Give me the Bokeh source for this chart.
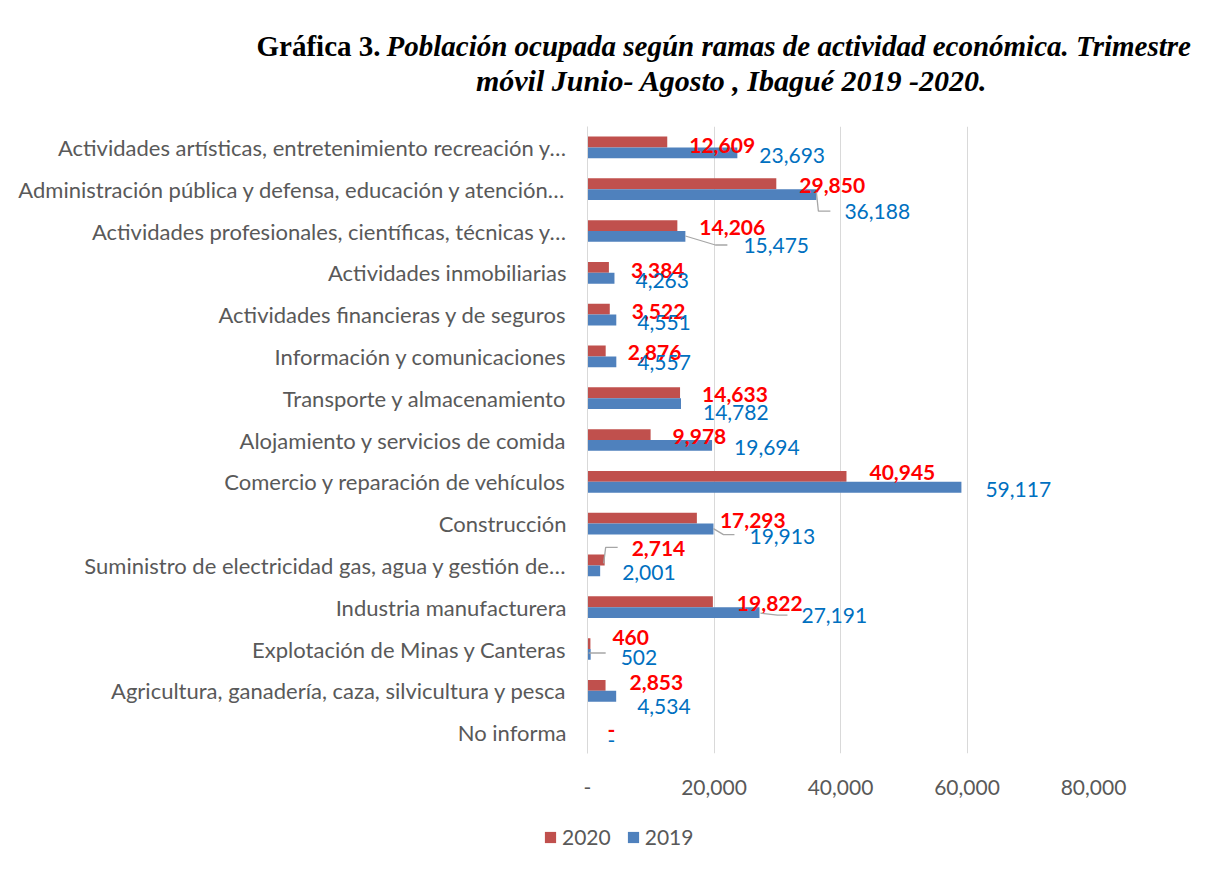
from bokeh.plotting import figure
from bokeh.layouts import column
from bokeh.models import (Range1d, FixedTicker, ColumnDataSource,
                          Label, Legend, LegendItem)
from bokeh.transform import dodge
from bokeh.core.properties import value
from bokeh.embed import file_html
from bokeh.resources import INLINE

# ---------------- data (top to bottom as in the chart) ----------------
categories = [
    "Actividades artísticas, entretenimiento recreación y…",
    "Administración pública y defensa, educación y atención…",
    "Actividades profesionales, científicas, técnicas y…",
    "Actividades inmobiliarias",
    "Actividades financieras y de seguros",
    "Información y comunicaciones",
    "Transporte y almacenamiento",
    "Alojamiento y servicios de comida",
    "Comercio y reparación de vehículos",
    "Construcción",
    "Suministro de electricidad gas, agua y gestión de…",
    "Industria manufacturera",
    "Explotación de Minas y Canteras",
    "Agricultura, ganadería, caza, silvicultura y pesca",
    "No informa",
]
values_2020 = [12609, 29850, 14206, 3384, 3522, 2876, 14633, 9978, 40945, 17293, 2714, 19822, 460, 2853, 0]
values_2019 = [23693, 36188, 15475, 4263, 4551, 4557, 14782, 19694, 59117, 19913, 2001, 27191, 502, 4534, 0]
series_names = ["2020", "2019"]
x_ticks = [0, 20000, 40000, 60000, 80000]
x_tick_labels = ["-", "20,000", "40,000", "60,000", "80,000"]
title_bold = "Gráfica 3."
title_line1 = "Población ocupada según ramas de actividad económica. Trimestre"
title_line2 = "móvil  Junio- Agosto , Ibagué 2019 -2020."

# ---------------- label placement (style, pixels) ----------------
red_dx = [22, 23, 22, 22, 22, 22, 22, 22, 23, 23, 27, 24, 22, 24, 20]
red_dy = [-2, -4, -4, -2, -3, -4, -4, -4, -9, -3, -17, -4, -12, -8, -3]
blue_dx = [22, 28, 58, 21, 21, 21, 22, 22, 24, 36, 22, 42, 30, 21, 20]
blue_dy = [8, 22, 14, 8, 8, 6, 14, 7, 8, 13, 7, 8, 8, 16, 8]

# leader lines: (row, series, [dx px], [dy px]) relative to bar end / row centre
leaders = [
    (1, "2019", [0, 2, 14], [3, 22, 22]),
    (2, "2019", [0, 30, 42], [5, 14, 14]),
    (9, "2019", [0, 10, 21], [5, 11, 11]),
    (10, "2020", [-1, 1, 13], [-2, -18, -18]),
    (11, "2019", [1, 18, 28], [6, 8, 8]),
    (12, "2019", [-2, 15, 15], [4, 4, 4]),
]

RED = "#C0504D"
BLUE = "#4F81BD"
GREY_TXT = "#595959"
FONT = "Lato"

W = 1209
TH = 100                  # title strip
H = 710                   # main chart
LH = 43                   # legend strip
BL, BR, BT, BB = 587, 116, 26, 57
frame_w = W - BL - BR
frame_h = H - BT - BB

def fmt(v):
    return "-" if v == 0 else f"{v:,}"

n = len(categories)
ypos = [n - 1 - i for i in range(n)]   # category slots, top row highest
src = ColumnDataSource(dict(
    y=ypos,
    v2020=values_2020,
    v2019=values_2019,
    t2020=[fmt(v) for v in values_2020],
    t2019=[fmt(v) for v in values_2019],
    rdx=red_dx, rdy=red_dy, bdx=blue_dx, bdy=blue_dy,
))

# ---------------- title strip ----------------
pt = figure(width=W, height=TH, output_backend="svg", toolbar_location=None,
            x_axis_location=None, y_axis_location=None, min_border=0,
            x_range=Range1d(0, 1), y_range=Range1d(0, 1))
pt.frame_align = False
pt.outline_line_color = None
pt.grid.visible = False
title_font = "Liberation Serif"
pt.add_layout(Label(x=380, y=TH - 45, x_units="screen", y_units="screen",
                    text=title_bold, text_align="right", text_baseline="middle",
                    text_font=title_font, text_font_style="bold",
                    text_font_size="29px", text_color="#000000"))
pt.add_layout(Label(x=386, y=TH - 45, x_units="screen", y_units="screen",
                    text=title_line1, text_align="left", text_baseline="middle",
                    text_font=title_font, text_font_style="bold italic",
                    text_font_size="29px", text_color="#000000"))
pt.add_layout(Label(x=735, y=TH - 80, x_units="screen", y_units="screen",
                    text=title_line2, text_align="center", text_baseline="middle",
                    text_font=title_font, text_font_style="bold italic",
                    text_font_size="30px", text_color="#000000"))

# ---------------- main chart ----------------
p = figure(width=W, height=H, y_range=Range1d(-0.5, n - 0.5),
           x_range=Range1d(0, 80000), output_backend="svg",
           toolbar_location=None, min_border_left=BL, min_border_right=BR,
           min_border_top=BT, min_border_bottom=BB)
p.frame_align = False

r20 = p.hbar(y=dodge("y", 0.13), left=0, right="v2020",
             height=0.26, fill_color=RED, line_color=None, source=src)
r19 = p.hbar(y=dodge("y", -0.13), left=0, right="v2019",
             height=0.26, fill_color=BLUE, line_color=None, source=src)

p.text(x="v2020", y="y", text="t2020", x_offset="rdx", y_offset="rdy",
       text_align="left", text_baseline="middle", text_color="#FF0000",
       text_font=value(FONT), text_font_style="bold", text_font_size="21px",
       source=src)
p.text(x="v2019", y="y", text="t2019", x_offset="bdx", y_offset="bdy",
       text_align="left", text_baseline="middle", text_color="#0070C0",
       text_font=value(FONT), text_font_size="21px", source=src)

# leader lines
px_x = 80000 / frame_w
px_y = n / frame_h
xs, ys = [], []
for row, s, dxs, dys in leaders:
    base = values_2019[row] if s == "2019" else values_2020[row]
    xs.append([base + d * px_x for d in dxs])
    ys.append([ypos[row] - d * px_y for d in dys])
p.multi_line(xs=xs, ys=ys, line_color="#A6A6A6", line_width=1.3)

# axes & grid
p.xaxis.ticker = FixedTicker(ticks=x_ticks)
p.xaxis.major_label_overrides = {t: l for t, l in zip(x_ticks, x_tick_labels)}
p.xaxis.axis_line_color = None
p.xaxis.major_tick_line_color = None
p.xaxis.minor_tick_line_color = None
p.xaxis.major_label_standoff = 20
p.xaxis.major_label_text_font = FONT
p.xaxis.major_label_text_font_size = "21px"
p.xaxis.major_label_text_color = GREY_TXT

p.yaxis.ticker = FixedTicker(ticks=ypos)
p.yaxis.major_label_overrides = {y: c for y, c in zip(ypos, categories)}
p.yaxis.axis_line_color = "#D9D9D9"
p.yaxis.major_tick_line_color = None
p.yaxis.minor_tick_line_color = None
p.yaxis.major_label_standoff = 15
p.yaxis.major_label_text_font = FONT
p.yaxis.major_label_text_font_size = "22px"
p.yaxis.major_label_text_color = GREY_TXT

p.xgrid.ticker = FixedTicker(ticks=x_ticks)
p.xgrid.grid_line_color = "#D9D9D9"
p.ygrid.grid_line_color = None
p.outline_line_color = None

# ---------------- legend strip ----------------
pl = figure(width=W, height=LH, output_backend="svg", toolbar_location=None,
            x_axis_location=None, y_axis_location=None, min_border=0,
            x_range=Range1d(0, 1), y_range=Range1d(0, 1))
pl.frame_align = False
pl.outline_line_color = None
pl.grid.visible = False
# swatch renderers (their single bar lies far outside the strip's ranges)
k20 = pl.hbar(y=[50], left=[20], right=[30], height=0.5, fill_color=RED, line_color=None)
k19 = pl.hbar(y=[50], left=[20], right=[30], height=0.5, fill_color=BLUE, line_color=None)
legend = Legend(items=[LegendItem(label=series_names[0], renderers=[k20]),
                       LegendItem(label=series_names[1], renderers=[k19])],
                orientation="horizontal", location=(543, 4),
                glyph_width=14, glyph_height=14, label_standoff=5, spacing=15,
                padding=0, margin=0, border_line_color=None,
                background_fill_alpha=0,
                label_text_font=FONT, label_text_font_size="21px",
                label_text_color=GREY_TXT)
pl.add_layout(legend, "center")

layout = column(pt, p, pl, spacing=0)
open("out.html", "w").write(file_html(layout, INLINE))
